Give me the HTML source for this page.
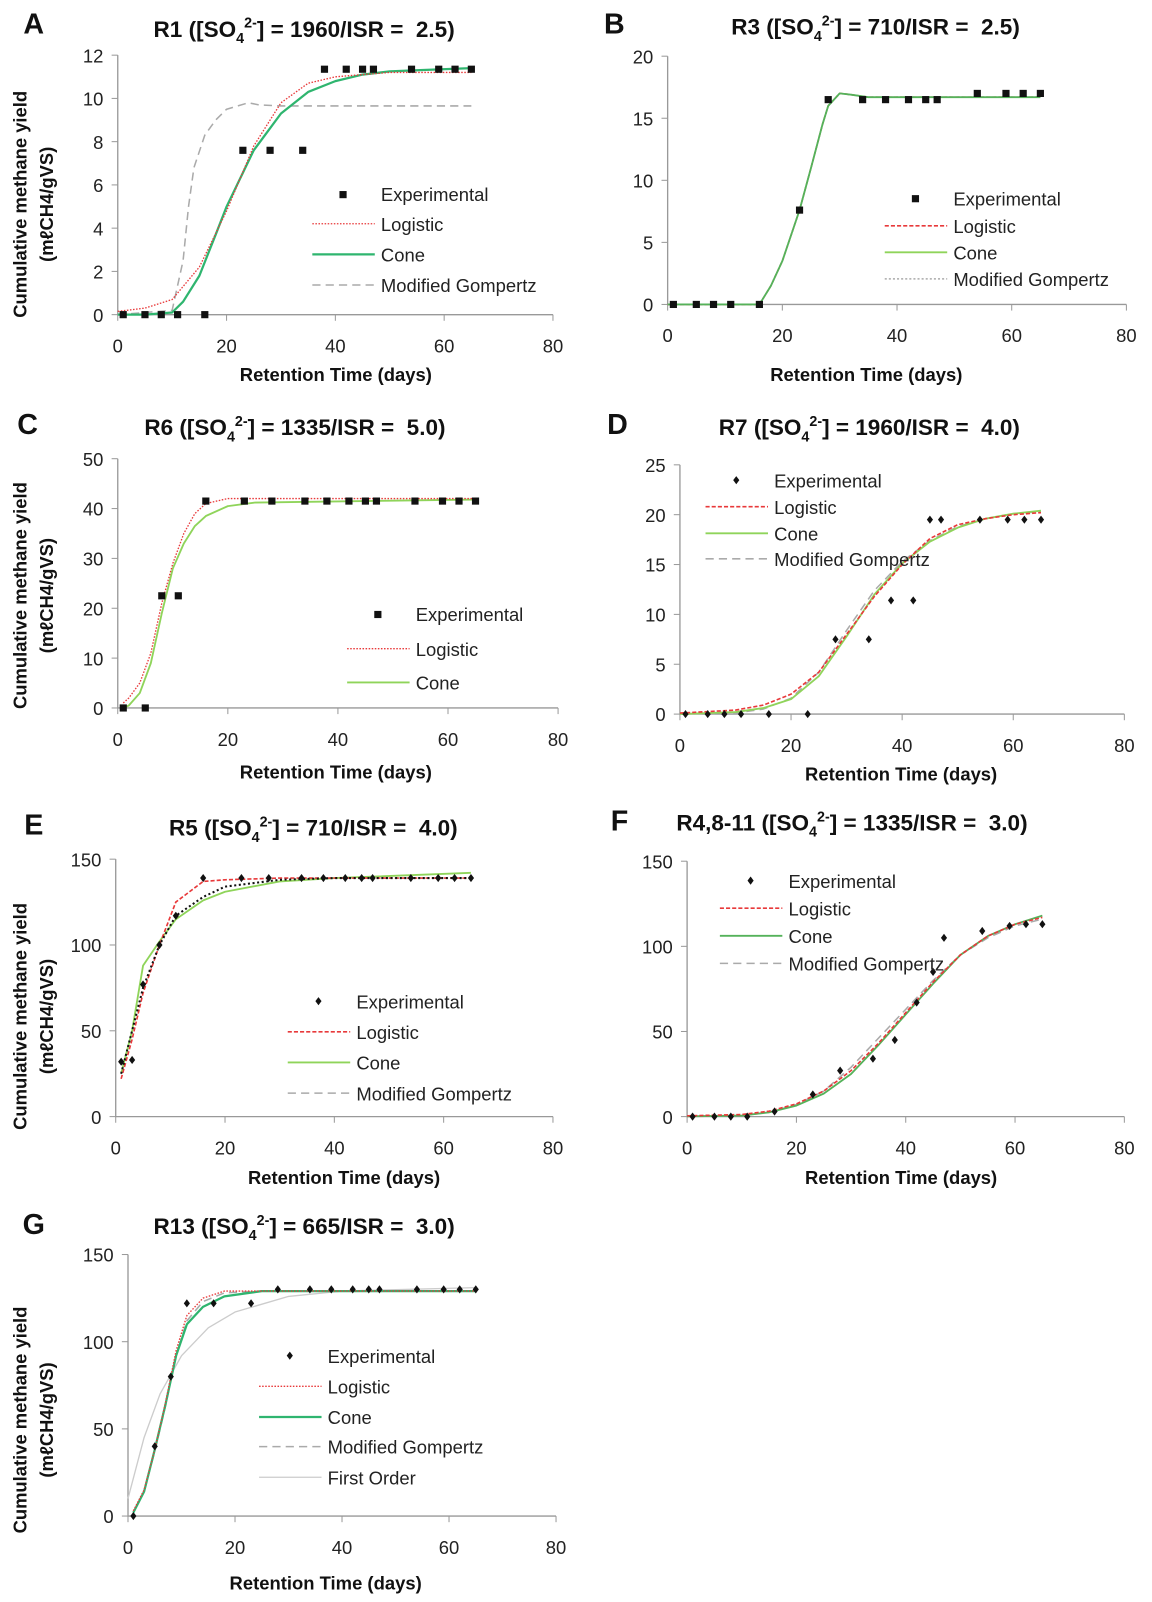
<!DOCTYPE html>
<html><head><meta charset="utf-8"><style>
html,body{margin:0;padding:0;background:#fff;}
svg{display:block;font-family:"Liberation Sans",Arial,sans-serif;}
text{white-space:pre;}
</style></head><body>
<svg width="1152" height="1602" viewBox="0 0 1152 1602" xmlns="http://www.w3.org/2000/svg"><g id="fig" transform="scale(1.024,1.0216)"></g></svg>
<script>
// ---------- data ----------
const expDays = [1,5,8,11,16,23,28,34,38,42,45,47,54,59,62,65];
const aExp = [0,0,0,0,0,7.6,7.6,7.6,11.35,11.35,11.35,11.35,11.35,11.35,11.35,11.35];
const aLogDays = [0,5,10,15,20,25,30,35,40,50,65];
const aLog = [0.15,0.3,0.7,2.2,4.8,7.8,9.8,10.7,11.0,11.2,11.2];
const aConeDays = [0,5,10,12,15,18,20,25,30,35,40,45,50,55,65];
const aCone = [0,0,0.1,0.6,1.8,3.7,5.0,7.6,9.3,10.3,10.8,11.1,11.25,11.3,11.4];
const aGomDays = [0,10,12,13,14,16,18,20,24,26,30,65];
const aGom = [0,0.2,2.5,5,6.8,8.3,9.0,9.5,9.8,9.7,9.65,9.65];

const bExp = [0,0,0,0,0,7.6,16.5,16.5,16.5,16.5,16.5,16.5,17,17,17,17];
const bFitDays = [0,16,18,20,23,25,27,28,30,32,35,65];
const bFit = [0,0,1.5,3.5,7.6,11,14.5,16,17,16.9,16.7,16.7];

const cExp = [0,0,22.5,22.5,41.5,41.5,41.5,41.5,41.5,41.5,41.5,41.5,41.5,41.5,41.5,41.5];
const cLogDays = [1,2,4,6,8,10,12,14,16,20,65];
const cLog = [1,2,5,11,21,29,35,39,41,42,42];
const cConeDays = [1,2,4,6,8,10,12,14,16,20,25,65];
const cCone = [0,0.5,3,9,19,28,33,36.5,38.5,40.5,41.2,41.8];

const dExp = [0,0,0,0,0,0,7.5,7.5,11.4,11.4,19.5,19.5,19.5,19.5,19.5,19.5];
const dFitDays = [0,10,15,20,25,30,35,40,45,50,55,60,65];
const dLog = [0.1,0.4,0.9,2.0,4.2,8.0,11.8,15.0,17.6,19.0,19.6,20.0,20.2];
const dCone = [0,0.2,0.6,1.5,3.8,7.8,12.0,15.1,17.3,18.7,19.6,20.1,20.4];
const dGom = [0,0.1,0.5,1.6,4.2,8.4,12.4,15.3,17.4,18.8,19.6,20.1,20.3];

const eExpDays = [1,3,5,8,11,16,23,28,34,38,42,45,47,54,59,62,65];
const eExp = [32,33,77,100,117,139,139,139,139,139,139,139,139,139,139,139,139];
const eFitDays = [1,3,5,8,11,16,20,30,40,65];
const eLog = [22,45,72,100,125,137,138,139,139,139];
const eCone = [25,50,88,102,115,126,131,137,139,142];
const eDot = [25,50,75,100,117,128,134,138,139,139];

const fExp = [0,0,0,0,3,13,27,34,45,67,85,105,109,112,113,113];
const fFitDays = [0,10,15,20,25,30,35,40,45,50,55,60,65];
const fLog = [0.5,1.2,3.2,7.5,15,27,43,61,79,95,106,113,117];
const fCone = [0.2,0.6,2.5,6.5,13.5,25,42,60,78,95,106,113,118];
const fGom = [0.1,0.5,2.5,7,15,29,46,63,80,95,105,112,116];

const gExp = [0,40,80,122,122,122,130,130,130,130,130,130,130,130,130,130];
const gFitDays = [1,3,5,7,9,11,14,18,25,40,65];
const gLog = [3,15,38,65,95,115,125,129,129,129,129];
const gCone = [2,14,38,64,92,110,120,126,129,129,129];
const gGom = [2,14,37,63,92,112,123,128,129,129,129];
const gFoDays = [0,3,6,10,15,20,30,40,65];
const gFo = [10,45,70,92,108,117,126,129,131];

// ---------- drawing ----------
const NS = "http://www.w3.org/2000/svg";
const svg = document.getElementById('fig');
function mk(tag, attrs, parent){
  const e = document.createElementNS(NS, tag);
  for (const k in attrs) e.setAttribute(k, attrs[k]);
  (parent||svg).appendChild(e);
  return e;
}
const BLACK = "#111";
const STY = {
  logDot:{stroke:"#e8393a","stroke-width":1.3,"stroke-dasharray":"1.5 1.5"},
  logDash:{stroke:"#e8393a","stroke-width":1.6,"stroke-dasharray":"4 2"},
  coneTeal:{stroke:"#2fb56f","stroke-width":2.2},
  coneLight:{stroke:"#8fd45a","stroke-width":1.8},
  coneMid:{stroke:"#55b25a","stroke-width":1.8},
  gomDash:{stroke:"#aaa","stroke-width":1.5,"stroke-dasharray":"8 5"},
  gomDot:{stroke:"#aaa","stroke-width":1.5,"stroke-dasharray":"2 2"},
  blackDot:{stroke:"#111","stroke-width":2,"stroke-dasharray":"2 2.5"},
  firstOrder:{stroke:"#ccc","stroke-width":1.3}
};

function panel(p){
  const g = mk('g', {});
  
  
  const sx = v => p.x0 + (p.x1 - p.x0) * v / 80;
  const sy = v => p.y0 - (p.y0 - p.yT) * v / p.yMax;
  const L = mk('text', {x:p.lx, y:p.ly, "font-size":28, "font-weight":"bold", fill:BLACK, "text-anchor":"middle"}, g);
  L.textContent = p.id;
  
  
  const T = mk('text', {x:p.tx, y:p.ty, "font-size":22, "font-weight":"bold", fill:BLACK, "text-anchor":"middle"}, g);
  
  
  T.appendChild(document.createTextNode(p.title[0] + " ([SO"));
  const s1 = mk('tspan', {"font-size":14, dy:6}, T); s1.textContent = "4";
  const s2 = mk('tspan', {"font-size":14, dy:-15}, T); s2.textContent = "2-";
  const s3 = mk('tspan', {dy:9}, T); s3.textContent = "] = " + p.title[1] + "/ISR =  " + p.title[2] + ")";
  const ax = mk('path', {d:`M${p.x0},${p.yT} V${p.y0} H${p.x1}`, stroke:"#999", "stroke-width":1.3, fill:"none"}, g);
  
  
  for (let v=0; v<=80; v+=20){
    mk('line', {x1:sx(v), x2:sx(v), y1:p.y0, y2:p.y0+6, stroke:"#999"}, g);
    const t = mk('text', {x:sx(v), y:p.y0+37, "font-size":18, fill:"#222", "text-anchor":"middle"}, g);
    t.textContent = v;
    
    
  }
  for (let v=0; v<=p.yMax; v+=p.yStep){
    mk('line', {x1:p.x0-6, x2:p.x0, y1:sy(v), y2:sy(v), stroke:"#999"}, g);
    const t = mk('text', {x:p.x0-14, y:sy(v)+7, "font-size":18, fill:"#222", "text-anchor":"end"}, g);
    t.textContent = v;
    
    
  }
  const xt = mk('text', {x:p.xtx, y:p.xty, "font-size":18, "font-weight":"bold", fill:BLACK, "text-anchor":"middle"}, g);
  xt.textContent = "Retention Time (days)";
  
  
  if (p.ytitle){
    const cy = p.ytitle;
    const y1 = mk('text', {x:0, y:0, "font-size":18, "font-weight":"bold", fill:BLACK, "text-anchor":"middle", transform:`translate(26,${cy}) rotate(-90)`}, g);
    y1.textContent = "Cumulative methane yield";
    
    
    const y2 = mk('text', {x:0, y:0, "font-size":18, "font-weight":"bold", fill:BLACK, "text-anchor":"middle", transform:`translate(52,${cy}) rotate(-90)`}, g);
    y2.textContent = "(mℓCH4/gVS)";
    
    
  }
  p.curves.forEach(c => {
    const d = c.days.map((dd,i) => (i?'L':'M') + sx(dd).toFixed(1) + ',' + sy(c.vals[i]).toFixed(1)).join(' ');
    const path = mk('path', Object.assign({d:d, fill:"none", "stroke-linejoin":"round"}, STY[c.style]), g);
    
    
  });
  p.exp.days.forEach((dd,i) => {
    const X = sx(dd), Y = sy(p.exp.vals[i]);
    let m;
    if (p.marker === 'sq') m = mk('rect', {x:X-3.5, y:Y-3.5, width:7, height:7, fill:BLACK}, g);
    else m = mk('path', {d:`M${X},${Y-4} L${X+3},${Y} L${X},${Y+4} L${X-3},${Y} Z`, fill:BLACK}, g);
    
    
  });
  const lg = mk('g', {}, g);
  
  
  p.legend.items.forEach((it,i) => {
    const Y = p.legend.ys[i];
    const lx = p.legend.x;
    if (it.style === 'marker'){
      const mx = lx - 37;
      let m;
      if (p.marker === 'sq') m = mk('rect', {x:mx-3.5, y:Y-10, width:7, height:7, fill:BLACK}, lg);
      else m = mk('path', {d:`M${mx},${Y-11} L${mx+3},${Y-7} L${mx},${Y-3} L${mx-3},${Y-7} Z`, fill:BLACK}, lg);
      
      
    } else {
      const ln = mk('line', Object.assign({x1:lx-67, x2:lx-6, y1:Y-7, y2:Y-7}, STY[it.style]), lg);
      
      
    }
    const t = mk('text', {x:lx, y:Y, "font-size":18, fill:"#222"}, lg);
    t.textContent = it.label;
    
    
  });
}

panel({id:"A", lx:33, ly:33, tx:297, ty:36, title:["R1","1960","2.5"],
  x0:115, x1:540, y0:308, yT:54, yMax:12, yStep:2, xtx:328, xty:373, ytitle:200, marker:'sq',
  exp:{days:expDays, vals:aExp},
  curves:[{days:aGomDays, vals:aGom, style:'gomDash', name:'gompertz'},
          {days:aConeDays, vals:aCone, style:'coneTeal', name:'cone'},
          {days:aLogDays, vals:aLog, style:'logDot', name:'logistic'}],
  legend:{x:372, ys:[197,226,256,286], items:[{style:'marker',label:'Experimental'},{style:'logDot',label:'Logistic'},{style:'coneTeal',label:'Cone'},{style:'gomDash',label:'Modified Gompertz'}]}});

panel({id:"B", lx:600, ly:33, tx:855, ty:34, title:["R3","710","2.5"],
  x0:652, x1:1100, y0:298, yT:55, yMax:20, yStep:5, xtx:846, xty:373, ytitle:null, marker:'sq',
  exp:{days:expDays, vals:bExp},
  curves:[{days:bFitDays, vals:bFit, style:'gomDot', name:'gompertz'},
          {days:bFitDays, vals:bFit, style:'logDash', name:'logistic'},
          {days:bFitDays, vals:bFit, style:'coneMid', name:'cone'}],
  legend:{x:931, ys:[201,228,254,280], items:[{style:'marker',label:'Experimental'},{style:'logDash',label:'Logistic'},{style:'coneLight',label:'Cone'},{style:'gomDot',label:'Modified Gompertz'}]}});

panel({id:"C", lx:27, ly:425, tx:288, ty:426, title:["R6","1335","5.0"],
  x0:115, x1:545, y0:693, yT:449, yMax:50, yStep:10, xtx:328, xty:762, ytitle:583, marker:'sq',
  exp:{days:expDays, vals:cExp},
  curves:[{days:cConeDays, vals:cCone, style:'coneLight', name:'cone'},
          {days:cLogDays, vals:cLog, style:'logDot', name:'logistic'}],
  legend:{x:406, ys:[608,642,675], items:[{style:'marker',label:'Experimental'},{style:'logDot',label:'Logistic'},{style:'coneLight',label:'Cone'}]}});

panel({id:"D", lx:603, ly:425, tx:849, ty:426, title:["R7","1960","4.0"],
  x0:664, x1:1098, y0:699, yT:455, yMax:25, yStep:5, xtx:880, xty:764, ytitle:null, marker:'dia',
  exp:{days:expDays, vals:dExp},
  curves:[{days:dFitDays, vals:dGom, style:'gomDash', name:'gompertz'},
          {days:dFitDays, vals:dCone, style:'coneLight', name:'cone'},
          {days:dFitDays, vals:dLog, style:'logDash', name:'logistic'}],
  legend:{x:756, ys:[477,503,529,554], items:[{style:'marker',label:'Experimental'},{style:'logDash',label:'Logistic'},{style:'coneLight',label:'Cone'},{style:'gomDash',label:'Modified Gompertz'}]}});

panel({id:"E", lx:33, ly:817, tx:306, ty:818, title:["R5","710","4.0"],
  x0:113, x1:540, y0:1093, yT:841, yMax:150, yStep:50, xtx:336, xty:1159, ytitle:995, marker:'dia',
  exp:{days:eExpDays, vals:eExp},
  curves:[{days:eFitDays, vals:eCone, style:'coneLight', name:'cone'},
          {days:eFitDays, vals:eLog, style:'logDash', name:'logistic'},
          {days:eFitDays, vals:eDot, style:'blackDot', name:'fitted-dotted'}],
  legend:{x:348, ys:[987,1017,1047,1077], items:[{style:'marker',label:'Experimental'},{style:'logDash',label:'Logistic'},{style:'coneLight',label:'Cone'},{style:'gomDash',label:'Modified Gompertz'}]}});

panel({id:"F", lx:605, ly:813, tx:832, ty:813, title:["R4,8-11","1335","3.0"],
  x0:671, x1:1098, y0:1093, yT:843, yMax:150, yStep:50, xtx:880, xty:1159, ytitle:null, marker:'dia',
  exp:{days:expDays, vals:fExp},
  curves:[{days:fFitDays, vals:fGom, style:'gomDash', name:'gompertz'},
          {days:fFitDays, vals:fCone, style:'coneMid', name:'cone'},
          {days:fFitDays, vals:fLog, style:'logDash', name:'logistic'}],
  legend:{x:770, ys:[869,896,923,950], items:[{style:'marker',label:'Experimental'},{style:'logDash',label:'Logistic'},{style:'coneMid',label:'Cone'},{style:'gomDash',label:'Modified Gompertz'}]}});

panel({id:"G", lx:33, ly:1208, tx:297, ty:1208, title:["R13","665","3.0"],
  x0:125, x1:543, y0:1484, yT:1228, yMax:150, yStep:50, xtx:318, xty:1556, ytitle:1390, marker:'dia',
  exp:{days:expDays, vals:gExp},
  curves:[{days:gFoDays, vals:gFo, style:'firstOrder', name:'first-order'},
          {days:gFitDays, vals:gGom, style:'gomDash', name:'gompertz'},
          {days:gFitDays, vals:gCone, style:'coneTeal', name:'cone'},
          {days:gFitDays, vals:gLog, style:'logDot', name:'logistic'}],
  legend:{x:320, ys:[1334,1364,1394,1423,1453], items:[{style:'marker',label:'Experimental'},{style:'logDot',label:'Logistic'},{style:'coneTeal',label:'Cone'},{style:'gomDash',label:'Modified Gompertz'},{style:'firstOrder',label:'First Order'}]}});
</script>
</body></html>
